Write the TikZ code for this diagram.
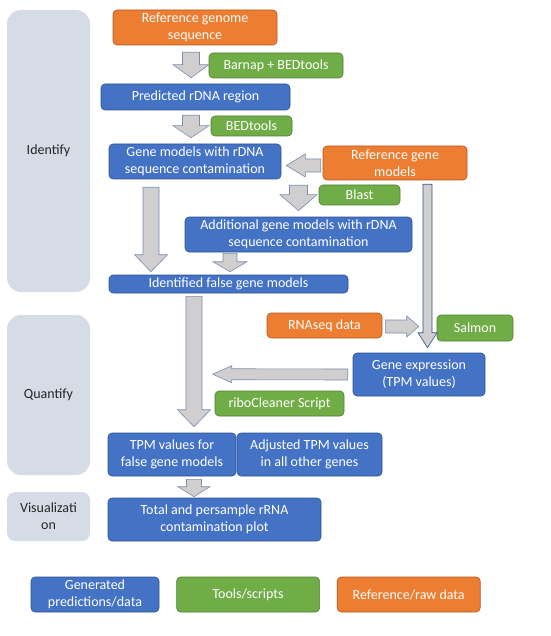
\documentclass[tikz,border=0pt]{standalone}
\usepackage{fontspec}
\setmainfont{Carlito}
\usetikzlibrary{calc, positioning}

\definecolor{genfill}{HTML}{4472C4}
\definecolor{genline}{HTML}{2F528F}
\definecolor{toolfill}{HTML}{70AD47}
\definecolor{toolline}{HTML}{507E32}
\definecolor{rawfill}{HTML}{ED7D31}
\definecolor{rawline}{HTML}{AE5A21}
\definecolor{panelfill}{HTML}{D6DCE5}
\definecolor{arrowfill}{HTML}{D0CECE}
\definecolor{arrowline}{HTML}{7A8DAE}

\tikzstyle{box} = [rectangle, rounded corners=4pt, line width=0.6pt, text=white,
  align=center, inner sep=0pt, font=\fontsize{14}{17}\selectfont]
\tikzstyle{gen} = [box, fill=genfill, draw=genline]
\tikzstyle{tool} = [box, fill=toolfill, draw=toolline]
\tikzstyle{raw} = [box, fill=rawfill, draw=rawline]
\tikzstyle{panel} = [rectangle, rounded corners=14pt, fill=panelfill, text=black!85,
  align=center, minimum width=83pt, font=\fontsize{14}{17}\selectfont]
\tikzstyle{barrow} = [fill=arrowfill, draw=arrowline, line width=0.6pt]

% block arrow: [options]{from}{to}{half shaft}{half head}{head length}
\newcommand{\blockarrow}[6][]{%
  \coordinate (ba-a) at #2;
  \coordinate (ba-b) at #3;
  \coordinate (ba-c) at ($(ba-b)!#6pt!(ba-a)$);
  \draw[barrow,#1] ($(ba-a)!#4pt!90:(ba-b)$) -- ($(ba-c)!#4pt!-90:(ba-a)$)
    -- ($(ba-c)!#5pt!-90:(ba-a)$) -- (ba-b) -- ($(ba-c)!#5pt!90:(ba-a)$)
    -- ($(ba-c)!#4pt!90:(ba-a)$) -- ($(ba-a)!#4pt!-90:(ba-b)$) -- cycle;
}

\begin{document}
\begin{tikzpicture}[x=1pt,y=-1pt,node distance=17pt]
  \useasboundingbox (0,0) rectangle (550,636);

  % stage panels
  \node [panel, minimum height=282pt] (identify) at (48.5,151) {Identify};
  \node [panel, minimum height=160pt] (quantify) at (48.5,395) {Quantify};
  \node [panel, minimum height=49pt, rounded corners=8pt] (visual) at (48.5,516.5) {Visualizati\\on};

  % identify
  \node [raw, minimum width=164pt, minimum height=35pt] (ref) at (195,27.5) {Reference genome\\sequence};
  \node [tool, minimum width=134pt, minimum height=25pt] (barnap) at (276,65.5) {Barnap + BEDtools};
  \node [gen, minimum width=189pt, minimum height=26pt] (pred) at (195.5,97) {Predicted rDNA region};
  \node [tool, minimum width=81pt, minimum height=20pt] (bedtools) at (251.5,126) {BEDtools};
  \node [gen, minimum width=172pt, minimum height=35pt] (gm) at (195,161.5) {Gene models with rDNA\\sequence contamination};
  \node [raw, minimum width=144pt, minimum height=34pt] (refgm) at (395,163) {Reference gene\\models};
  \node [tool, minimum width=81pt, minimum height=20pt] (blast) at (359.5,195) {Blast};
  \node [gen, minimum width=227pt, minimum height=35pt] (addgm) at (298.5,234.5) {Additional gene models with rDNA\\sequence contamination};
  \node [gen, minimum width=239pt, minimum height=18pt] (ident) at (228.5,284) {Identified false gene models};

  % quantify
  \node [raw, minimum width=115pt, minimum height=25pt] (rnaseq) at (324.5,325.5) {RNAseq data};
  \node [tool, minimum width=76pt, minimum height=26pt] (salmon) at (475,328) {Salmon};
  \node [gen, minimum width=132pt, minimum height=43pt] (expr) at (419,374.5) {Gene expression\\(TPM values)};
  \node [tool, minimum width=129pt, minimum height=25pt] (ribo) at (279.5,403.5) {riboCleaner Script};
  \node [gen, minimum width=128pt, minimum height=43pt] (tpmfalse) at (172,454.5) {TPM values for\\false gene models};
  \node [gen, minimum width=145pt, minimum height=43pt] (tpmadj) at (309.5,454.5) {Adjusted TPM values\\in all other genes};

  % visualization
  \node [gen, minimum width=213pt, minimum height=43pt] (plot) at (214.5,519.5) {Total and persample rRNA\\contamination plot};

  % legend
  \node [gen, minimum width=128pt, minimum height=35pt] (keygen) at (95,594.5) {Generated\\predictions/data};
  \node [tool, minimum width=143pt, minimum height=35pt, right=of keygen] (keytool) {Tools/scripts};
  \node [raw, minimum width=143pt, minimum height=35pt, right=of keytool] (keyraw) {Reference/raw data};

  % arrows
  \blockarrow{($(ref.south)+(-4,7)$)}{($(pred.north)+(-4.5,-6)$)}{8.5}{18}{13}
  \blockarrow{($(pred.south)+(-4.5,5)$)}{($(gm.north)+(-4,-6)$)}{8.5}{18}{12}
  \blockarrow{($(refgm.west)+(-2,2.5)$)}{($(gm.east)+(5,4)$)}{6.5}{11.5}{19}
  \blockarrow{($(addgm.north |- gm.south)+(0,6)$)}{($(addgm.north)+(0,-6)$)}{9}{18.5}{16}
  \blockarrow{($(gm.south)+(-44,8)$)}{($(ident.north)+(-77.5,-3)$)}{8}{16.5}{17}
  \blockarrow{($(addgm.south)+(-68.5,1)$)}{($(ident.north)+(1.5,-3)$)}{7}{17}{10}
  \blockarrow{($(ident.south)+(-34.5,3)$)}{($(tpmfalse.north)+(22,-6)$)}{8}{16.5}{17}
  \blockarrow{($(rnaseq.east)+(3,1)$)}{($(salmon.west)+(-18,-1.5)$)}{6.5}{10.5}{12}
  \blockarrow[draw=genline]{($(refgm.south)+(32.5,4)$)}{($(expr.north)+(8.5,-5)$)}{4.5}{9.5}{15}
  \blockarrow{($(expr.west)+(-5,0)$)}{($(ribo.north west)+(-2,-16.5)$)}{5.5}{8.5}{19}
  \blockarrow{($(tpmfalse.south)+(22,3)$)}{($(plot.north)+(-20.5,-1)$)}{7.5}{16}{10}
\end{tikzpicture}
\end{document}
